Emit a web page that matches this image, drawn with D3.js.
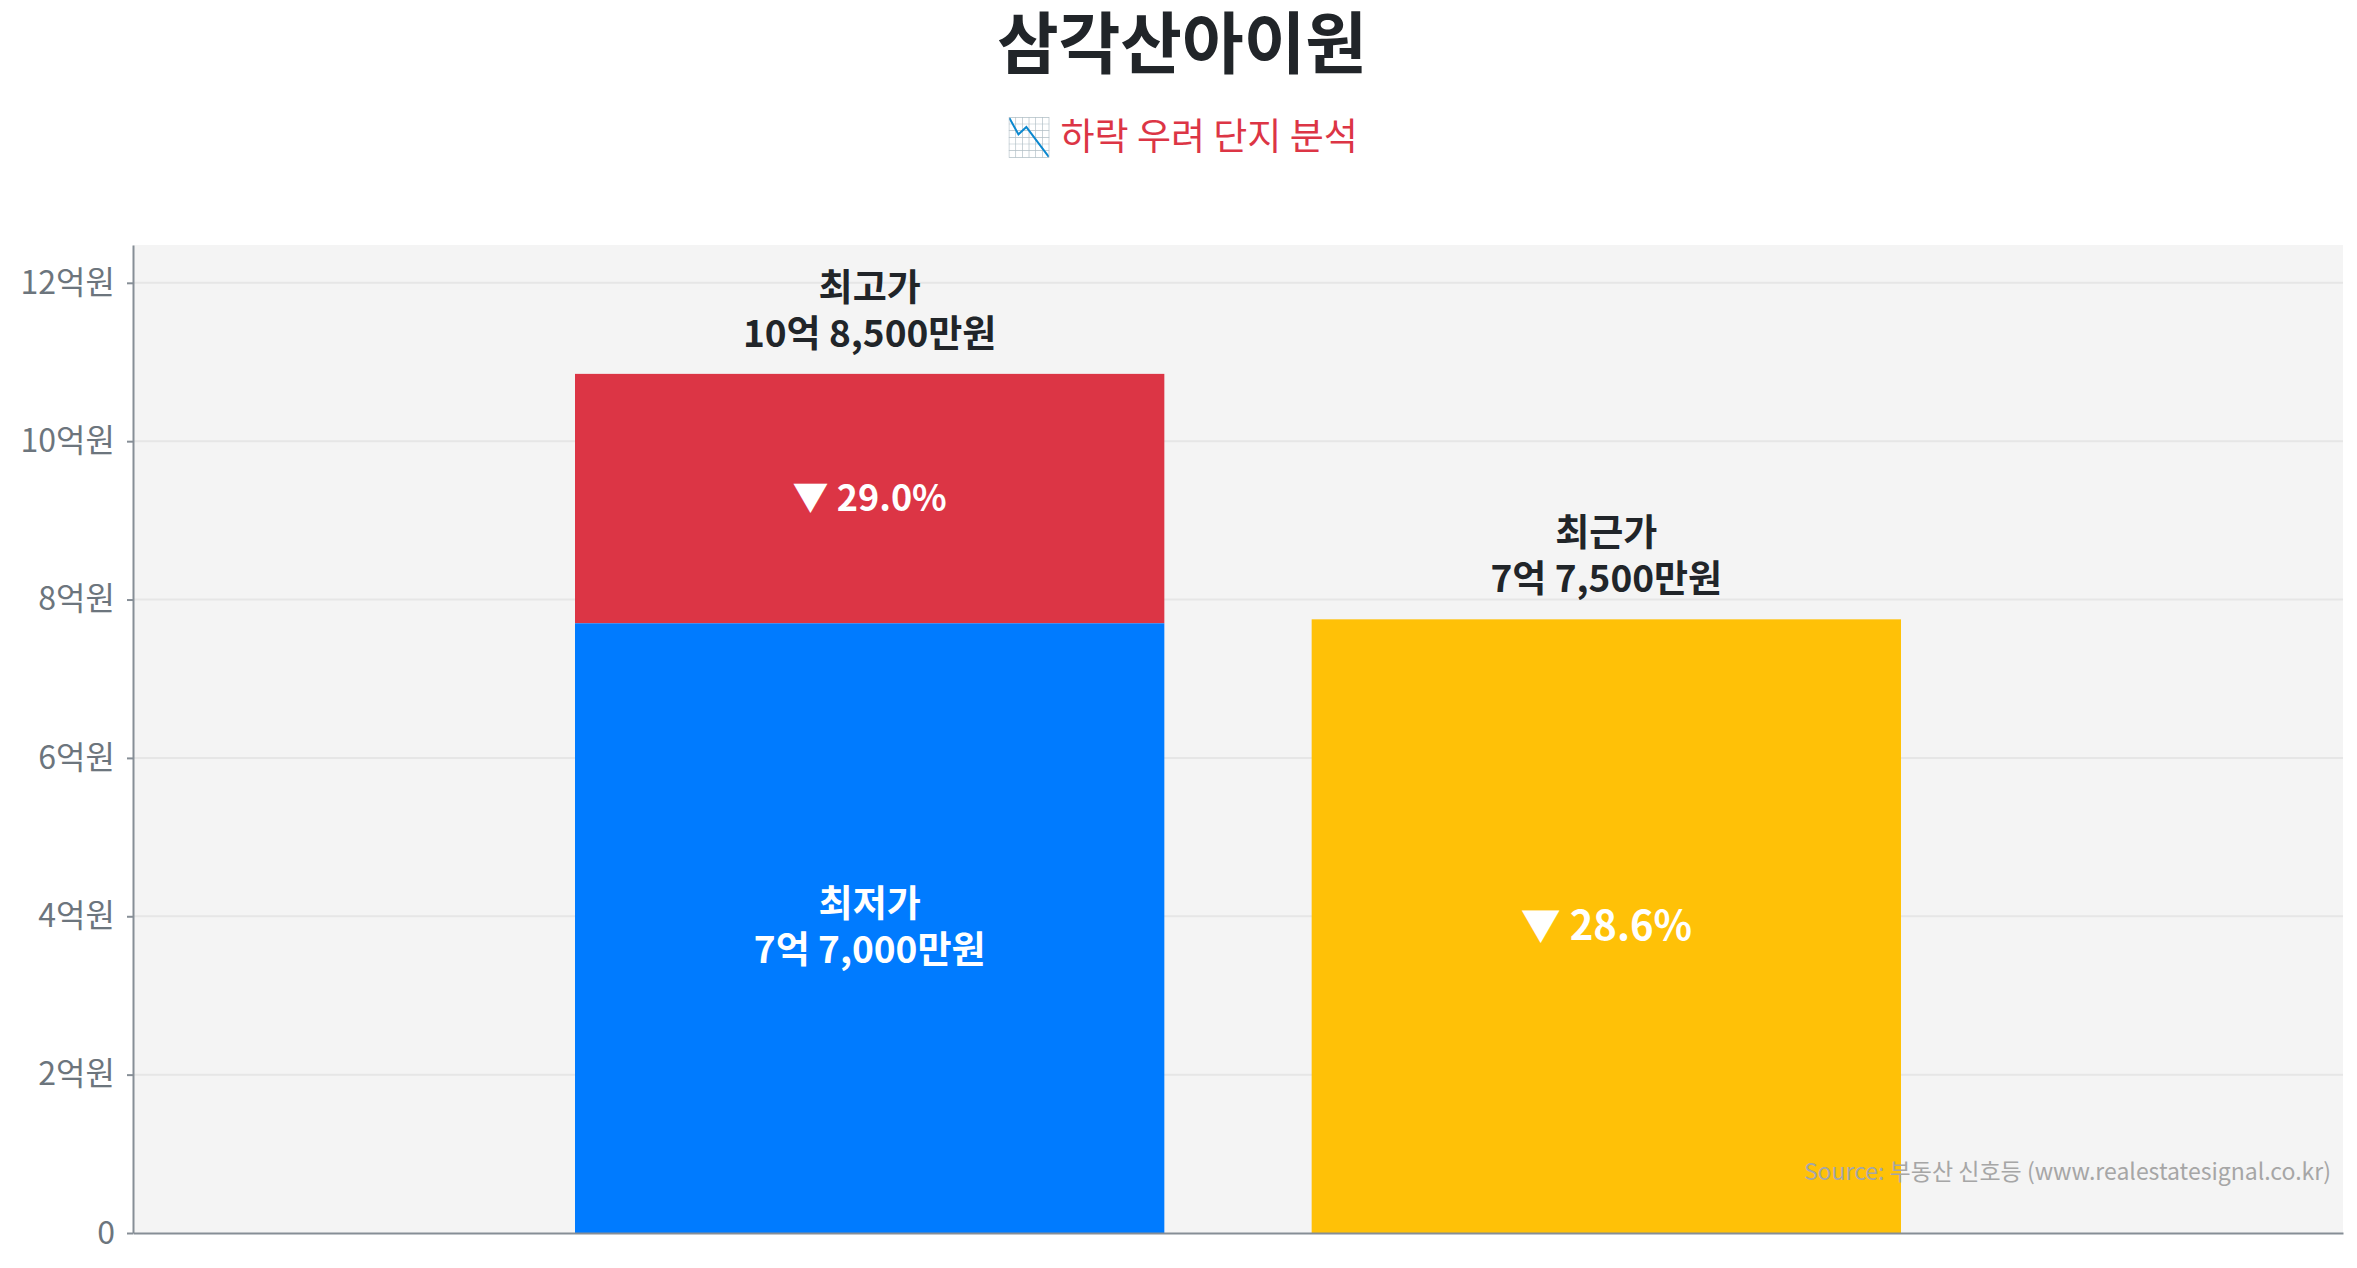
<!DOCTYPE html>
<html>
  <head>
    <meta charset="utf-8">
    <title>삼각산아이원</title>
    <script src="https://cdn.jsdelivr.net/npm/d3@7/dist/d3.min.js" charset="utf-8"></script>
    <style media="screen">
    body {margin:0; background:#fff;}
    svg {display:block; font-family:"Noto Sans CJK KR", "Noto Sans", sans-serif;}
    </style>
    <script>
    // 가격 데이터 (단위: 억원)
    var priceNames=['최고가', '최저가', '최근가'];
    var priceValues=[10.85, 7.70, 7.75];
    var priceTexts=['10억 8,500만원', '7억 7,000만원', '7억 7,500만원'];
    var barCats=['최고·최저가', '최근가'];
    var yTicks=[0, 2, 4, 6, 8, 10, 12];

    window.onload=function (){
      var W=2357, H=1268;
      var m={left:133, right:14, top:245, bottom:35};

      var svg=d3.select('#svg1').attr('width', W).attr('height', H);

      //제목
      svg.append('text')
      .attr('x', 1182).attr('y', 68)
      .attr('text-anchor', 'middle')
      .attr('font-size', 67).attr('font-weight', 700)
      .attr('fill', '#212529')
      .text('삼각산아이원');

      svg.append('text')
      .attr('x', 1182).attr('y', 150)
      .attr('text-anchor', 'middle')
      .attr('font-size', 37)
      .attr('fill', '#dc3545')
      .text('📉 하락 우려 단지 분석');

      //스케일
      var x=d3.scaleBand()
      .domain(barCats)
      .range([m.left, W-m.right])
      .paddingInner(0.2)
      .paddingOuter(0.6);

      var high=priceValues[0], low=priceValues[1], recent=priceValues[2];
      var y=d3.scaleLinear()
      .domain([0, d3.max(priceValues)*1.15])
      .range([H-m.bottom, m.top]);

      //배경
      svg.append('rect')
      .attr('x', m.left).attr('y', m.top)
      .attr('width', W-m.right-m.left).attr('height', H-m.bottom-m.top)
      .attr('fill', '#f4f4f4');

      //그리드
      svg.append('g').selectAll('line')
      .data(yTicks.filter(function (d){return d>0;}))
      .enter().append('line')
      .attr('x1', m.left).attr('x2', W-m.right)
      .attr('y1', function (d){return y(d);}).attr('y2', function (d){return y(d);})
      .attr('stroke', '#e6e6e6').attr('stroke-width', 2);

      //막대
      var bw=x.bandwidth();
      var bars=[
        {cat:barCats[0], y0:low, y1:high, color:'#dc3545'},
        {cat:barCats[0], y0:0, y1:low, color:'#007bff'},
        {cat:barCats[1], y0:0, y1:recent, color:'#ffc107'}
      ];
      svg.append('g').selectAll('rect')
      .data(bars)
      .enter().append('rect')
      .attr('x', function (d){return x(d.cat);})
      .attr('y', function (d){return y(d.y1);})
      .attr('width', bw)
      .attr('height', function (d){return y(d.y0)-y(d.y1);})
      .attr('fill', function (d){return d.color;});

      //축
      var yAxis=svg.append('g')
      .attr('transform', 'translate('+m.left+',0)')
      .call(d3.axisLeft(y).tickValues(yTicks).tickSize(6).tickSizeOuter(0).tickPadding(12)
        .tickFormat(function (d){return d===0 ? '0' : d+'억원';}));
      yAxis.select('.domain').attr('stroke', '#868e96').attr('stroke-width', 2);
      yAxis.selectAll('.tick line').attr('stroke', '#868e96').attr('stroke-width', 2);
      yAxis.selectAll('.tick text')
      .attr('font-family', '"Noto Sans CJK KR", sans-serif')
      .attr('font-size', 32).attr('fill', '#6c757d');

      var xAxis=svg.append('g')
      .attr('transform', 'translate(0,'+(H-m.bottom)+')')
      .call(d3.axisBottom(x).tickSize(0).tickSizeOuter(0).tickFormat(''));
      xAxis.select('.domain').attr('stroke', '#868e96').attr('stroke-width', 2);

      //라벨 (두 줄)
      var cx0=x(barCats[0])+bw/2, cx1=x(barCats[1])+bw/2;
      var labels=[
        {x:cx0, y:y(high)-27-46, l:[priceNames[0], priceTexts[0]], c:'#212529'},
        {x:cx1, y:y(recent)-27-46, l:[priceNames[2], priceTexts[2]], c:'#212529'},
        {x:cx0, y:(y(low)+y(0))/2-11, l:[priceNames[1], priceTexts[1]], c:'#fff'}
      ];
      var lab=svg.append('g').selectAll('text')
      .data(labels)
      .enter().append('text')
      .attr('text-anchor', 'middle')
      .attr('font-weight', 700)
      .attr('font-size', 37)
      .attr('fill', function (d){return d.c;});
      lab.selectAll('tspan')
      .data(function (d){return d.l.map(function (t, i){return {x:d.x, y:d.y+i*46, t:t};});})
      .enter().append('tspan')
      .attr('x', function (d){return d.x;})
      .attr('y', function (d){return d.y;})
      .text(function (d){return d.t;});

      //하락률
      var fmt=d3.format('.1f');
      var drops=[
        {x:cx0, y:(y(high)+y(low))/2, v:(high-low)/high*100, s:36},
        {x:cx1, y:(y(recent)+y(0))/2, v:(high-recent)/high*100, s:40}
      ];
      svg.append('g').selectAll('text')
      .data(drops)
      .enter().append('text')
      .attr('x', function (d){return d.x;})
      .attr('y', function (d){return d.y;})
      .attr('dy', '0.35em')
      .attr('text-anchor', 'middle')
      .attr('font-weight', 700)
      .attr('font-size', function (d){return d.s;})
      .attr('fill', '#fff')
      .text(function (d){return '▼ '+fmt(d.v)+'%';});

      //출처
      svg.append('text')
      .attr('x', 2331).attr('y', 1180)
      .attr('text-anchor', 'end')
      .attr('font-size', 23)
      .attr('fill', '#a6a6a6')
      .text('Source: 부동산 신호등 (www.realestatesignal.co.kr)');
    };
    </script>
  </head>
  <body>
    <svg id="svg1"></svg>
  </body>
</html>
